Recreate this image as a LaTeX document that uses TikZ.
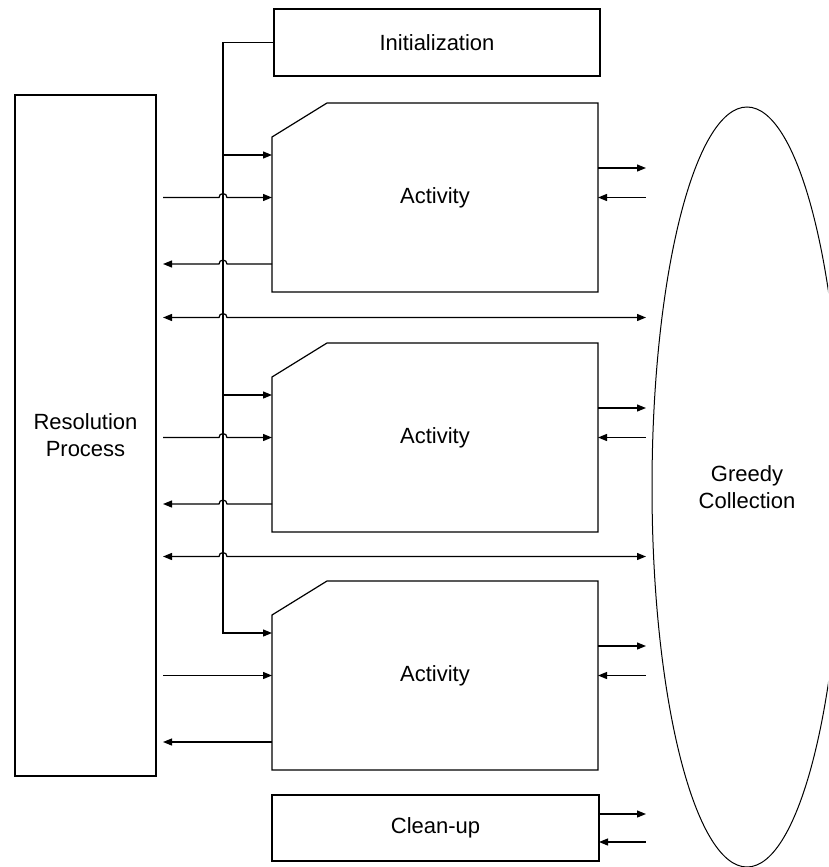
\documentclass[tikz,border=0pt]{standalone}
\usepackage{fontspec}
\setmainfont{Liberation Sans}
\usetikzlibrary{arrows.meta,shapes.geometric,calc}
\tikzset{
    plain-box/.style = {draw, line width=1.2pt, rectangle, inner sep=0pt, outer sep=0pt, align=center, font=\fontsize{22}{27}\selectfont},
    activity-box/.style = {rectangle, inner sep=0pt, outer sep=0pt, minimum width=326pt, minimum height=189pt, font=\fontsize{22}{27}\selectfont},
    collection/.style = {draw, line width=1pt, ellipse, inner sep=0pt, outer sep=0pt, minimum width=190pt, minimum height=760pt, align=center, font=\fontsize{22}{27}\selectfont},
    flow/.style = {line width=1.2pt, >={Triangle[length=9pt,width=7pt]}},
}

\begin{document}
\begin{tikzpicture}[x=1pt,y=-1pt]
\useasboundingbox (0,0) rectangle (828,867);
\clip (0,0) rectangle (828,867);

\node [plain-box, minimum width=141pt, minimum height=681pt] (res) at (85.5,435.5) {Resolution\\Process};
\node [plain-box, minimum width=326pt, minimum height=67pt] (init) at (437,42.5) {Initialization};
\node [activity-box] (a1) at (435,197.5) {Activity};
\node [activity-box] (a2) at (435,437.5) {Activity};
\node [activity-box] (a3) at (435,675.5) {Activity};
\node [plain-box, minimum width=327pt, minimum height=66pt] (clean) at (435.5,828) {Clean-up};
\node [collection] (gc) at (747,487) {Greedy\\Collection};

% activity outlines with the cut corner
\foreach \act in {a1,a2,a3}
    \draw[line width=1.2pt] (\act.south west) -- ([yshift=-34pt]\act.north west) -- ([xshift=55pt]\act.north west) -- (\act.north east) -- (\act.south east) -- cycle;

\coordinate (bus) at (223,42.5);
\coordinate (res-out) at ([xshift=7pt]res.east);
\coordinate (gc-edge) at ([xshift=48pt]a1.east);
\coordinate (b1) at ([yshift=42.5pt]a1.west);
\coordinate (b2) at ([yshift=42.5pt]a2.west);
\coordinate (b3) at ([yshift=42.5pt]a3.west);
\coordinate (o1) at ([yshift=-66.5pt]a1.west);
\coordinate (o2) at ([yshift=-66.5pt]a2.west);
\coordinate (o3) at ([yshift=-66.5pt]a3.west);
\coordinate (m1) at ($(a1.south)!0.5!(a2.north)$);
\coordinate (m2) at ($(a2.south)!0.5!(a3.north)$);
\coordinate (r1) at ([yshift=29.5pt]a1.east);
\coordinate (r2) at ([yshift=29.5pt]a2.east);
\coordinate (r3) at ([yshift=29.5pt]a3.east);
\coordinate (c-out) at ([yshift=14pt]clean.east);
\coordinate (c-in) at ([yshift=-14pt]clean.east);

\begin{scope}[flow]
% initialization bus
\draw[->] (init.west) -- (bus) -- (bus |- b3) -- (b3);
\draw[->] (bus |- b1) -- (b1);
\draw[->] (bus |- b2) -- (b2);

% resolution process <-> activities
\draw[->] (res-out |- a1.west) -- ([xshift=-4pt]bus |- a1.west) arc[start angle=180, end angle=0, radius=4pt] -- (a1.west);
\draw[<-] (res-out |- o1) -- ([xshift=-4pt]bus |- o1) arc[start angle=180, end angle=0, radius=4pt] -- (o1);
\draw[<->] (res-out |- m1) -- ([xshift=-4pt]bus |- m1) arc[start angle=180, end angle=0, radius=4pt] -- (gc-edge |- m1);
\draw[->] (res-out |- a2.west) -- ([xshift=-4pt]bus |- a2.west) arc[start angle=180, end angle=0, radius=4pt] -- (a2.west);
\draw[<-] (res-out |- o2) -- ([xshift=-4pt]bus |- o2) arc[start angle=180, end angle=0, radius=4pt] -- (o2);
\draw[<->] (res-out |- m2) -- ([xshift=-4pt]bus |- m2) arc[start angle=180, end angle=0, radius=4pt] -- (gc-edge |- m2);
\draw[->] (res-out |- a3.west) -- (a3.west);
\draw[<-] (res-out |- o3) -- (o3);

% activities <-> greedy collection
\draw[->] (r1) -- (gc-edge |- r1);
\draw[<-] (a1.east) -- (gc-edge |- a1.east);
\draw[->] (r2) -- (gc-edge |- r2);
\draw[<-] (a2.east) -- (gc-edge |- a2.east);
\draw[->] (r3) -- (gc-edge |- r3);
\draw[<-] (a3.east) -- (gc-edge |- a3.east);
\draw[->] (c-out) -- (gc-edge |- c-out);
\draw[<-] (c-in) -- (gc-edge |- c-in);
\end{scope}
\end{tikzpicture}
\end{document}
